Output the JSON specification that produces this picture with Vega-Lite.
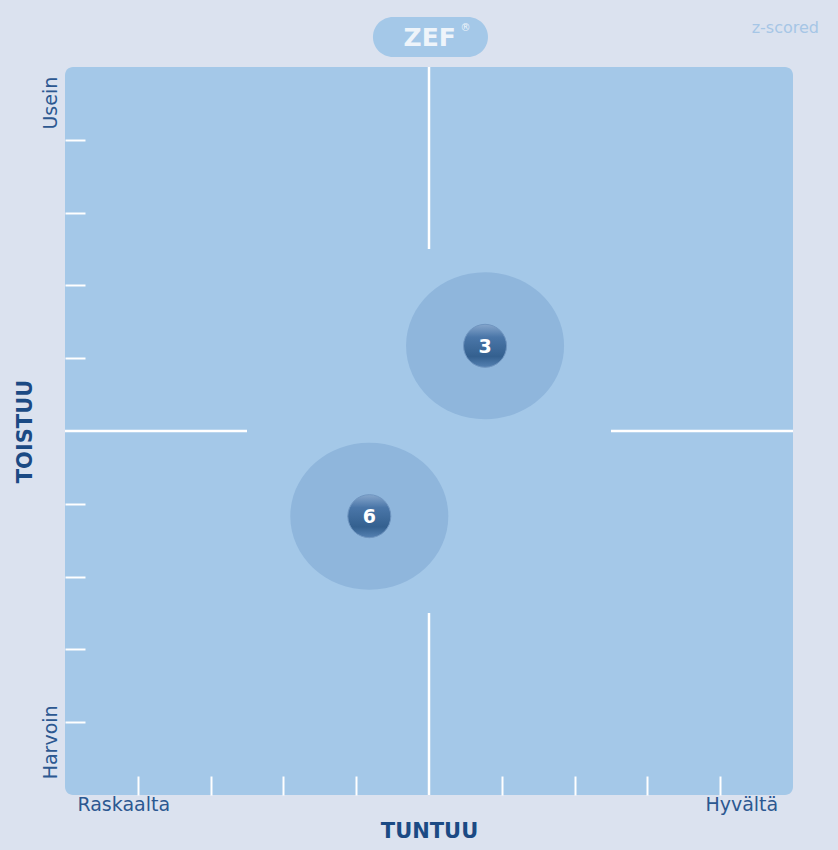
{
  "$schema": "https://vega.github.io/schema/vega-lite/v6.json",
  "width": 728,
  "height": 728,
  "autosize": "none",
  "padding": {"left": 65, "top": 67, "right": 45, "bottom": 55},
  "background": "#dbe2ef",
  "config": {
    "view": {"fill": "#a4c8e8", "stroke": null, "cornerRadius": 8},
    "font": "DejaVu Sans"
  },
  "layer": [
    {
      "data": {
        "values": [
          {"x": 0, "x2": 0, "y": 2.5, "y2": 5},
          {"x": 0, "x2": 0, "y": -5, "y2": -2.5},
          {"x": -5, "x2": -2.5, "y": 0, "y2": 0},
          {"x": 2.5, "x2": 5, "y": 0, "y2": 0}
        ]
      },
      "mark": {"type": "rule", "color": "#ffffff", "strokeWidth": 2.5},
      "encoding": {
        "x": {
          "field": "x",
          "type": "quantitative",
          "scale": {"domain": [-5, 5], "nice": false, "zero": false},
          "axis": {
            "orient": "bottom",
            "values": [-4.2, -4, -3, -2, -1, 1, 2, 3, 4, 4.29],
            "labelExpr": "datum.value < -4.1 ? 'Raskaalta' : (datum.value > 4.1 ? 'Hyvältä' : '')",
            "domain": false,
            "grid": false,
            "tickSize": -19,
            "tickWidth": 2,
            "tickColor": "#ffffff",
            "tickOpacity": {"condition": {"test": "abs(datum.value) > 4.1", "value": 0}, "value": 1},
            "labelFontSize": 19,
            "labelColor": "#2c5891",
            "labelPadding": 19,
            "labelFlush": false,
            "labelOverlap": false,
            "title": "TUNTUU",
            "titleFontSize": 21,
            "titleFontWeight": "bold",
            "titleColor": "#1b4a84",
            "titlePadding": 6
          }
        },
        "x2": {"field": "x2"},
        "y": {
          "field": "y",
          "type": "quantitative",
          "scale": {"domain": [-5, 5], "nice": false, "zero": false},
          "axis": {
            "orient": "left",
            "values": [-4.27, -4, -3, -2, -1, 1, 2, 3, 4, 4.51],
            "labelExpr": "datum.value < -4.1 ? 'Harvoin' : (datum.value > 4.1 ? 'Usein' : '')",
            "domain": false,
            "grid": false,
            "tickSize": -20,
            "tickWidth": 2,
            "tickColor": "#ffffff",
            "tickOpacity": {"condition": {"test": "abs(datum.value) > 4.1", "value": 0}, "value": 1},
            "labelFontSize": 19,
            "labelColor": "#2c5891",
            "labelAngle": -90,
            "labelPadding": 25,
            "labelFlush": false,
            "labelOverlap": false,
            "title": "TOISTUU",
            "titleFontSize": 21,
            "titleFontWeight": "bold",
            "titleColor": "#1b4a84",
            "titlePadding": 6
          }
        },
        "y2": {"field": "y2"}
      }
    },
    {
      "data": {"name": "pts", "values": [
        {"id": "3", "x": 0.77, "y": 1.17},
        {"id": "6", "x": -0.82, "y": -1.17}
      ]},
      "layer": [
        {
          "mark": {
            "type": "point",
            "filled": true,
            "shape": "M -1.075 0 A 1.075 1 0 1 0 1.075 0 A 1.075 1 0 1 0 -1.075 0 Z",
            "size": 21609,
            "fill": "#8fb6dc",
            "opacity": 1,
            "strokeWidth": 0
          },
          "encoding": {
            "x": {"field": "x", "type": "quantitative"},
            "y": {"field": "y", "type": "quantitative"}
          }
        },
        {
          "mark": {
            "type": "point",
            "filled": true,
            "shape": "circle",
            "size": 1849,
            "opacity": 1,
            "fill": {
              "gradient": "linear",
              "x1": 0, "y1": 0, "x2": 0, "y2": 1,
              "stops": [
                {"offset": 0, "color": "#86a6cc"},
                {"offset": 0.3, "color": "#4a76a8"},
                {"offset": 0.75, "color": "#34608f"},
                {"offset": 1, "color": "#5581b2"}
              ]
            },
            "stroke": "#6f95c0",
            "strokeWidth": 1
          },
          "encoding": {
            "x": {"field": "x", "type": "quantitative"},
            "y": {"field": "y", "type": "quantitative"}
          }
        },
        {
          "mark": {
            "type": "text",
            "color": "#ffffff",
            "fontSize": 19,
            "fontWeight": "bold",
            "baseline": "middle",
            "align": "center",
            "dy": 1
          },
          "encoding": {
            "x": {"field": "x", "type": "quantitative"},
            "y": {"field": "y", "type": "quantitative"},
            "text": {"field": "id"}
          }
        }
      ]
    },
    {
      "data": {"values": [{"brand": "ZEF", "mark": "®", "note": "z-scored"}]},
      "layer": [
        {
          "mark": {"type": "rect", "fill": "#a4c8e8", "cornerRadius": 20},
          "encoding": {
            "x": {"datum": -0.77},
            "x2": {"datum": 0.81},
            "y": {"datum": 5.137},
            "y2": {"datum": 5.687}
          }
        },
        {
          "mark": {"type": "text", "color": "#eef4fa", "fontSize": 25, "fontWeight": "bold", "align": "center", "baseline": "middle", "dy": 1},
          "encoding": {
            "x": {"datum": 0.01},
            "y": {"datum": 5.41},
            "text": {"field": "brand"}
          }
        },
        {
          "mark": {"type": "text", "color": "#eef4fa", "fontSize": 10, "align": "center", "baseline": "middle"},
          "encoding": {
            "x": {"datum": 0.5},
            "y": {"datum": 5.53},
            "text": {"field": "mark"}
          }
        },
        {
          "mark": {"type": "text", "color": "#a6c6e6", "fontSize": 16, "align": "right", "baseline": "middle"},
          "encoding": {
            "x": {"datum": 5.357},
            "y": {"datum": 5.536},
            "text": {"field": "note"}
          }
        }
      ]
    }
  ]
}
